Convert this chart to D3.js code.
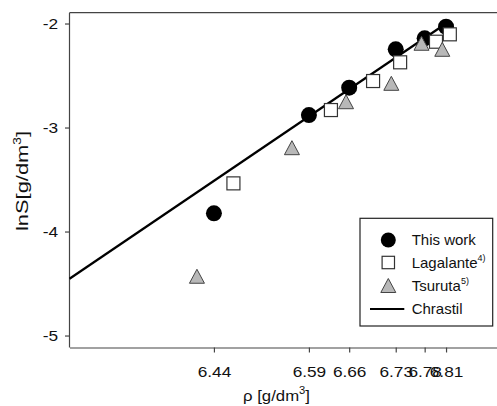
<!DOCTYPE html>
<html><head><meta charset="utf-8">
<script src="https://cdn.jsdelivr.net/npm/d3@7"></script>
<style>
body{margin:0;background:#fff;}
text{font-family:"Liberation Sans",Arial,sans-serif;fill:#111;}
</style></head>
<body><svg id="c" width="497" height="406"></svg>
<script>
// ---- data ----
const thisWorkRho = [6.441, 6.592, 6.656, 6.730, 6.776, 6.810];
const thisWorkLnS = [-3.825, -2.880, -2.617, -2.248, -2.142, -2.031];
const lagalanteRho = [6.472, 6.627, 6.694, 6.737, 6.794, 6.816];
const lagalanteLnS = [-3.537, -2.832, -2.553, -2.373, -2.175, -2.104];
const tsurutaRho = [6.414, 6.565, 6.651, 6.723, 6.771, 6.804];
const tsurutaLnS = [-4.43, -3.194, -2.752, -2.575, -2.190, -2.248];
const chrastilRho = [6.2114, 6.81];
const chrastilLnS = [-4.454, -2.00];
const xTickValues = thisWorkRho;
const yTickValues = [-5, -4, -3, -2];
const legendLabels = ["This work", "Lagalante", "Tsuruta", "Chrastil"];
const legendSups = ["", "4)", "5)", ""];

const svg = d3.select("#c");
const L = 69.5, R = 497, T = 12.7, B = 347.5;
const x = d3.scaleLinear().domain([6.2114, 6.891]).range([L, R]);
const y = d3.scaleLinear().domain([-5.115, -1.896]).range([B, T]);
const axCol = "#444";

// frame top line
svg.append("line").attr("x1", L).attr("x2", R).attr("y1", T).attr("y2", T)
  .attr("stroke", axCol).attr("stroke-width", 1.2);

// axes
const gx = svg.append("g").attr("transform", `translate(0,${B})`)
  .call(d3.axisBottom(x).tickValues(xTickValues).tickFormat(d3.format(".2f"))
    .tickSize(5).tickSizeOuter(0).tickPadding(14));
const gy = svg.append("g").attr("transform", `translate(${L},0)`)
  .call(d3.axisLeft(y).tickValues(yTickValues).tickFormat(d => d === 0 ? "0" : "-" + Math.abs(d))
    .tickSize(4.5).tickSizeOuter(0).tickPadding(7));
[gx, gy].forEach(g => {
  g.select(".domain").attr("stroke", axCol).attr("stroke-width", 1.2);
  g.selectAll(".tick line").attr("stroke", axCol).attr("stroke-width", 1.2);
  g.selectAll(".tick text").attr("font-size", 15).attr("fill", "#111")
    .attr("font-family", '"Liberation Sans",Arial,sans-serif')
    .each(function () {
      const len = this.getComputedTextLength();
      d3.select(this).attr("textLength", len * 1.15).attr("lengthAdjust", "spacingAndGlyphs");
    });
});
gy.select(".domain").attr("d", `M0,${B}V${T}`);

// axis labels
const xl = svg.append("text").attr("x", 276.5).attr("y", 401).attr("text-anchor", "middle").attr("font-size", 15)
  .attr("textLength", 67).attr("lengthAdjust", "spacingAndGlyphs");
xl.append("tspan").text("ρ [g/dm");
xl.append("tspan").attr("font-size", 10).attr("dy", -7).text("3");
xl.append("tspan").attr("dy", 7).text("]");

const yl = svg.append("text").attr("transform", "translate(28,181) rotate(-90)")
  .attr("text-anchor", "middle").attr("font-size", 16)
  .attr("textLength", 100).attr("lengthAdjust", "spacingAndGlyphs");
yl.append("tspan").text("lnS[g/dm");
yl.append("tspan").attr("font-size", 10).attr("dy", -7).text("3");
yl.append("tspan").attr("dy", 7).text("]");

// marks
const tri = (cx, cy, w, h) => `M${cx},${cy - h / 2}L${cx + w / 2},${cy + h / 2}L${cx - w / 2},${cy + h / 2}Z`;

svg.append("g").selectAll("circle").data(d3.zip(thisWorkRho, thisWorkLnS)).join("circle")
  .attr("cx", d => x(d[0])).attr("cy", d => y(d[1])).attr("r", 8).attr("fill", "#000");

svg.append("path").datum(d3.zip(chrastilRho, chrastilLnS))
  .attr("d", d3.line().x(d => x(d[0])).y(d => y(d[1])))
  .attr("fill", "none").attr("stroke", "#000").attr("stroke-width", 2.2);

svg.append("g").selectAll("rect").data(d3.zip(lagalanteRho, lagalanteLnS)).join("rect")
  .attr("x", d => x(d[0]) - 6.5).attr("y", d => y(d[1]) - 6.5).attr("width", 13).attr("height", 13)
  .attr("fill", "#fff").attr("stroke", "#333").attr("stroke-width", 1.2);

svg.append("g").selectAll("path").data(d3.zip(tsurutaRho, tsurutaLnS)).join("path")
  .attr("d", d => tri(x(d[0]), y(d[1]), 15, 14))
  .attr("fill", "#b8b8b8").attr("stroke", "#444").attr("stroke-width", 1);

// legend
const lg = svg.append("g");
lg.append("rect").attr("x", 360).attr("y", 218.3).attr("width", 132.7).attr("height", 107.7)
  .attr("fill", "#fff").attr("stroke", "#222").attr("stroke-width", 1.2);
const ly = [240, 262.5, 285.5, 309];
const mx = 388.3;
lg.append("circle").attr("cx", mx).attr("cy", ly[0]).attr("r", 7.5).attr("fill", "#000");
lg.append("rect").attr("x", mx - 6.2).attr("y", ly[1] - 6.2).attr("width", 12.4).attr("height", 12.4)
  .attr("fill", "#fff").attr("stroke", "#333").attr("stroke-width", 1.2);
lg.append("path").attr("d", tri(mx, ly[2], 15, 14)).attr("fill", "#b8b8b8").attr("stroke", "#444");
lg.append("line").attr("x1", 370).attr("x2", 404.3).attr("y1", ly[3]).attr("y2", ly[3])
  .attr("stroke", "#000").attr("stroke-width", 2.2);
legendLabels.forEach((t, i) => {
  const tx = lg.append("text").attr("x", 411.7).attr("y", ly[i] + 5.3).attr("font-size", 15);
  tx.append("tspan").text(t);
  if (legendSups[i]) tx.append("tspan").attr("font-size", 9).attr("dy", -7).text(legendSups[i]);
});
</script></body></html>
